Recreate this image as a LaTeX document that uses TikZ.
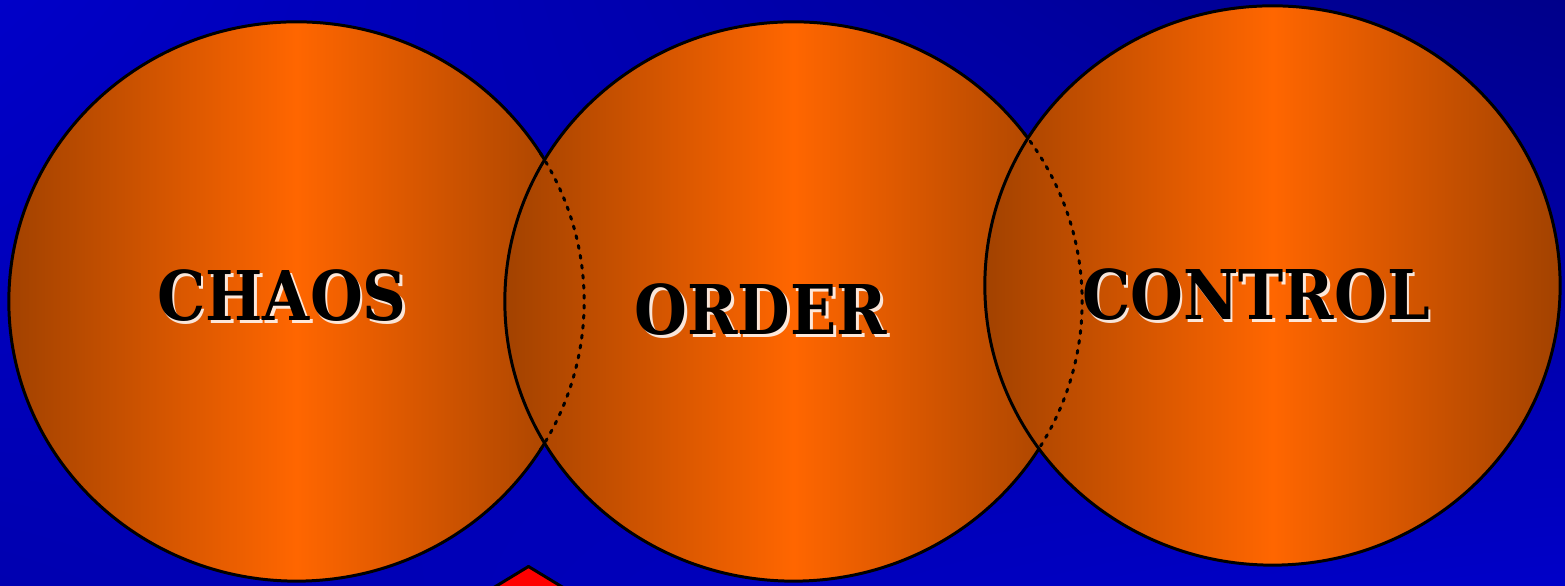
\documentclass[tikz,border=0pt]{standalone}
\usepackage{fontspec}
\newfontfamily\labelfont{DejaVu Serif}
\usetikzlibrary{calc,shadings}

\definecolor{bgblue}{HTML}{0000C8}
\definecolor{bgdark}{HTML}{00008A}
\definecolor{bglow}{HTML}{0000B0}
\definecolor{orangemid}{HTML}{FF6600}
\definecolor{orangeedge}{HTML}{A24200}
\definecolor{warnred}{HTML}{FF0000}

\tikzset{
  blob/.style={draw=black,line width=.85pt,left color=orangeedge,
    right color=orangeedge,middle color=orangemid},
  rim/.style={dotted,line width=.85pt},
  word/.style={font=\labelfont\bfseries\fontsize{19.5}{20}\selectfont,
    text=black,inner sep=0pt,xscale=0.885},
  glow/.style={word,text=white,opacity=.85}
}

\begin{document}
\begin{tikzpicture}[x=0.01cm,y=-0.01cm,line cap=round,line join=round]
    \useasboundingbox (0,0) rectangle (1565,586);
    \clip (0,0) rectangle (1565,586);
    % Blue backdrop, darker to the upper right.
    \shade[upper left=bgblue,upper right=bgdark,lower left=bglow,
      lower right=bgblue] (0,0) rectangle (1565,586);

    % The three overlapping discs.
    \coordinate (chaosc) at (296.5,301.5);
    \coordinate (orderc) at (793.5,301.5);
    \coordinate (controlc) at (1272.5,285.5);
    \shade[blob] (chaosc) ellipse [x radius=2.875cm,y radius=2.795cm];
    \shade[blob] (orderc) ellipse [x radius=2.885cm,y radius=2.795cm];
    \shade[blob] (controlc) ellipse [x radius=2.875cm,y radius=2.795cm];

    % Hidden rims inside the overlaps.
    \draw[rim] (chaosc) ++(32:2.875cm and 2.795cm)
      arc[start angle=32,end angle=-32,x radius=2.875cm,y radius=2.795cm];
    \draw[rim] (orderc) ++(37:2.885cm and 2.795cm)
      arc[start angle=37,end angle=-32,x radius=2.885cm,y radius=2.795cm];

    % Red marker at the bottom edge.
    \coordinate (tip) at (528.5,566.5);
    \draw[fill=warnred,line width=.85pt] (tip) -- ++(56,34) -- ++(-112,0)
      -- cycle;

    % Labels with their light shadow.
    \node[glow] (chaosg) at (284.5,298.5) {CHAOS};
    \node[word] (chaos) at (282,296) {CHAOS};
    \node[glow] (orderg) at (763.5,312.5) {ORDER};
    \node[word] (order) at (761,310) {ORDER};
    \node[glow] (controlg) at (1258.5,297.5) {CONTROL};
    \node[word] (control) at (1256,295) {CONTROL};
\end{tikzpicture}
\end{document}
